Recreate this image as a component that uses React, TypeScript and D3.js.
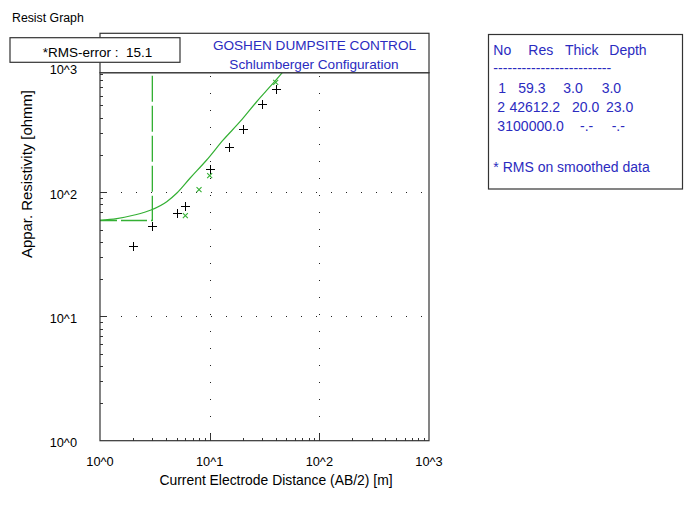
import React from 'react';
import * as d3 from 'd3';

// ---- data ----
const measuredAB2 = [2, 3, 5, 6, 10, 15, 20, 30, 40];
const measuredRho = [37.2, 53.5, 67.8, 77.6, 155, 230, 323, 514, 679];
const smoothedAB2 = [6, 8, 10, 40];
const smoothedRho = [64.8, 105, 136, 769];
const curveAB2 = [1, 1.42, 2.01, 2.92, 4.06, 5.0, 6.61, 9.39, 13.3, 18.9, 26.8, 35.5, 45.3, 52];
const curveRho = [59.5, 61.3, 65.3, 72.0, 84.0, 98.2, 129.7, 182, 264, 370, 536, 708, 908, 1060];
const layerNo = ['1', '2', '3'];
const layerRes = [59.3, 42612.2, 100000.0];
const layerThick: (number | null)[] = [3.0, 20.0, null];
const layerDepth: (number | null)[] = [3.0, 23.0, null];
const rmsError = 15.1;
const axisTickValues = [1, 10, 100, 1000];
const axisTickLabels = ['10^0', '10^1', '10^2', '10^3'];
const titleLines = ['GOSHEN DUMPSITE CONTROL', 'Schlumberger Configuration'];
const tableHeader = ['No', 'Res', 'Thick', 'Depth'];
const windowTitle = 'Resist Graph';
const xTitle = 'Current Electrode Distance (AB/2) [m]';
const yTitle = 'Appar. Resistivity [ohmm]';
const rmsNote = '* RMS on smoothed data';

const FONT = '"Liberation Sans", Arial, sans-serif';
const BLUE = '#2b2bc0';
const GREEN = '#34b034';
const FRAME = '#333';

const L = 100, R = 429, T = 72.7, B = 440.7;

export default function App() {
  const x = d3.scaleLog().domain([1, 1000]).range([L, R]);
  const y = d3.scaleLog().domain([1, 1000]).range([B, 68.1]);

  const minorX = x.ticks().filter(v => !axisTickValues.includes(v));
  const minorY = y.ticks().filter(v => !axisTickValues.includes(v));

  const curvePts: [number, number][] = curveAB2.map((a, i) => [a, curveRho[i]]);
  const curvePath = d3.line<[number, number]>()
    .x(d => x(d[0])).y(d => y(d[1]))
    .curve(d3.curveMonotoneX)(curvePts) || '';

  const stepPts: [number, number][] = [];
  let prevX = 1;
  layerRes.forEach((r, i) => {
    stepPts.push([prevX, r]);
    const d = layerDepth[i];
    if (d != null) { stepPts.push([d, r]); prevX = d; }
    else stepPts.push([1000, r]);
  });
  const stepPath = d3.line<[number, number]>().x(d => x(d[0])).y(d => y(d[1]))(stepPts) || '';

  const gridVals = [10, 100];

  // table cell x positions per row: [no, res, thick, depth]
  const cellX = [
    [498.3, 518.3, 563.3, 601.7],
    [497.3, 509.5, 572, 606],
    [497.3, 505.3, 580, 611.7],
  ];
  const headerX = [493.3, 528.3, 565, 609.3];
  const rowY = [93.3, 112.3, 131];
  const fmt = (v: number | null) => (v == null ? '-.-' : v.toFixed(1));

  return (
    <svg width={684} height={510} style={{ position: 'absolute', left: 0, top: 0, background: '#fff' }}
      fontFamily={FONT}>
      <defs>
        <clipPath id="plotClip">
          <rect x={L} y={T} width={R - L} height={B - T} />
        </clipPath>
      </defs>
      <rect x={0} y={0} width={684} height={510} fill="#fff" />
      <text x={12} y={22} fontSize={12.3} fill="#000">{windowTitle}</text>

      {/* grid dots */}
      {gridVals.map(v => (
        <line key={'gv' + v} x1={Math.round(x(v)) + 0.5} x2={Math.round(x(v)) + 0.5} y1={76} y2={B - 2}
          stroke="#222" strokeWidth={1} strokeDasharray="1 16" shapeRendering="crispEdges" />
      ))}
      {gridVals.map(v => (
        <line key={'gh' + v} x1={121} x2={R - 2} y1={Math.round(y(v)) + 0.5} y2={Math.round(y(v)) + 0.5}
          stroke="#222" strokeWidth={1} strokeDasharray="1 14" shapeRendering="crispEdges" />
      ))}

      {/* ticks */}
      {minorX.map(v => (
        <line key={'mx' + v} x1={Math.round(x(v)) + 0.5} x2={Math.round(x(v)) + 0.5} y1={B} y2={B - 2.5}
          stroke={FRAME} shapeRendering="crispEdges" />
      ))}
      {minorY.map(v => (
        <line key={'my' + v} x1={L} x2={L + 2.5} y1={Math.round(y(v)) + 0.5} y2={Math.round(y(v)) + 0.5}
          stroke={FRAME} shapeRendering="crispEdges" />
      ))}
      {gridVals.map(v => (
        <g key={'mj' + v}>
          <line x1={Math.round(x(v)) + 0.5} x2={Math.round(x(v)) + 0.5} y1={B} y2={B - 6.5} stroke={FRAME} shapeRendering="crispEdges" />
          <line x1={L} x2={L + 6.5} y1={Math.round(y(v)) + 0.5} y2={Math.round(y(v)) + 0.5} stroke={FRAME} shapeRendering="crispEdges" />
        </g>
      ))}

      {/* model lines */}
      <g clipPath="url(#plotClip)">
        <path d={stepPath} fill="none" stroke={GREEN} strokeWidth={1.3} strokeDasharray="26 4" strokeDashoffset={9} />
        <path d={curvePath} fill="none" stroke={GREEN} strokeWidth={1.2} />
        {smoothedAB2.map((a, i) => {
          const cx = x(a), cy = y(smoothedRho[i]);
          return (
            <path key={'s' + i} d={`M${cx - 2.5},${cy - 2.5}L${cx + 2.5},${cy + 2.5}M${cx - 2.5},${cy + 2.5}L${cx + 2.5},${cy - 2.5}`}
              stroke={GREEN} strokeWidth={1.1} fill="none" />
          );
        })}
        {measuredAB2.map((a, i) => {
          const cx = Math.round(x(a)) + 0.5, cy = Math.round(y(measuredRho[i])) + 0.5;
          return (
            <path key={'m' + i} d={`M${cx - 4.5},${cy}H${cx + 4.5}M${cx},${cy - 4.5}V${cy + 4.5}`}
              stroke="#000" strokeWidth={1} fill="none" shapeRendering="crispEdges" />
          );
        })}
      </g>

      {/* plot frame */}
      <rect x={L} y={T} width={R - L} height={B - T} fill="none" stroke={FRAME} strokeWidth={1.2} />

      {/* title box */}
      <rect x={L} y={33.3} width={R - L} height={T - 33.3} fill="#fff" stroke={FRAME} strokeWidth={1.2} />
      <text x={314.5} y={50} fontSize={13.6} fill={BLUE} textAnchor="middle">{titleLines[0]}</text>
      <text x={314} y={69.3} fontSize={13.6} fill={BLUE} textAnchor="middle">{titleLines[1]}</text>

      {/* RMS box */}
      <rect x={10} y={37.7} width={170} height={24.6} fill="#fff" stroke={FRAME} strokeWidth={1.2} />
      <text x={42.7} y={56.5} fontSize={13.5} fill="#000" style={{ whiteSpace: 'pre' }}>{`*RMS-error :  ${rmsError.toFixed(1)}`}</text>

      {/* axis labels */}
      {axisTickValues.map((v, i) => (
        <text key={'xl' + v} x={x(v)} y={465.5} fontSize={12.8} textAnchor="middle" fill="#000">{axisTickLabels[i]}</text>
      ))}
      {axisTickValues.map((v, i) => (
        <text key={'yl' + v} x={77} y={y(v) + 6.3} fontSize={12.8} textAnchor="end" fill="#000">{axisTickLabels[i]}</text>
      ))}
      <text x={276} y={485} fontSize={13.9} textAnchor="middle" fill="#000">{xTitle}</text>
      <text transform="translate(31.7,174) rotate(-90)" fontSize={14} textAnchor="middle" fill="#000"
        textLength={168} lengthAdjust="spacingAndGlyphs">{yTitle}</text>

      {/* layer table */}
      <rect x={488.5} y={34.5} width={194} height={154.5} fill="#fff" stroke={FRAME} strokeWidth={1.2} />
      {tableHeader.map((h, i) => (
        <text key={'h' + i} x={headerX[i]} y={55} fontSize={14} fill={BLUE}>{h}</text>
      ))}
      <text x={493.3} y={73} fontSize={14} fill={BLUE} textLength={118} lengthAdjust="spacingAndGlyphs">{'-'.repeat(25)}</text>
      {layerNo.map((n, i) => (
        <g key={'r' + i} fontSize={14} fill={BLUE}>
          <text x={cellX[i][0]} y={rowY[i]}>{n}</text>
          <text x={cellX[i][1]} y={rowY[i]}>{fmt(layerRes[i])}</text>
          <text x={cellX[i][2]} y={rowY[i]}>{fmt(layerThick[i])}</text>
          <text x={cellX[i][3]} y={rowY[i]}>{fmt(layerDepth[i])}</text>
        </g>
      ))}
      <text x={493.3} y={171.7} fontSize={14} fill={BLUE}>{rmsNote}</text>
    </svg>
  );
}
